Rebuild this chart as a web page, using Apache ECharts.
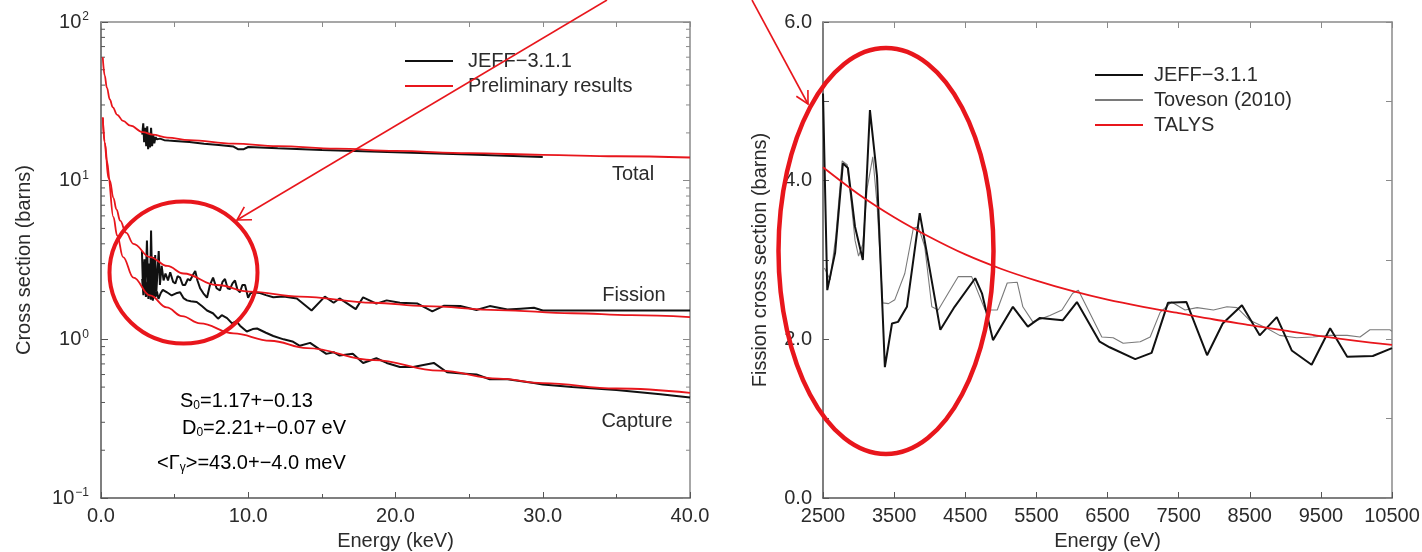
<!DOCTYPE html>
<html>
<head>
<meta charset="utf-8">
<script src="https://cdn.jsdelivr.net/npm/echarts@6/dist/echarts.min.js"></script>
<style>
  html, body { margin: 0; padding: 0; background: #ffffff; }
  #chart { width: 1422px; height: 552px; }
</style>
</head>
<body>
<div id="chart"></div>
<script>
// ---------- Left panel: cross sections vs neutron energy (keV), log scale ----------
const leftXTicks = [0, 10, 20, 30, 40];
const leftYDecades = [0.1, 1, 10, 100];
const logMinorTicks = [0.2, 0.3, 0.4, 0.5, 0.6, 0.7, 0.8, 0.9,
                       2, 3, 4, 5, 6, 7, 8, 9,
                       20, 30, 40, 50, 60, 70, 80, 90];

// JEFF-3.1.1 evaluated data [E (keV), sigma (b)]
const jeffTotal = [
  [2.8, 19.5], [2.87, 23], [2.93, 17.5], [3.0, 21.5], [3.07, 16.5], [3.14, 22],
  [3.2, 15.8], [3.27, 20], [3.33, 16.2], [3.4, 21.5], [3.47, 16.5], [3.55, 19.5],
  [3.62, 17.2], [3.7, 18.8], [3.8, 18.2], [4.0, 18.4], [4.3, 18.0], [4.6, 17.9],
  [5.0, 17.8], [6.0, 17.5], [7.0, 17.1], [8.0, 16.8], [9.0, 16.4], [9.3, 15.8],
  [9.7, 15.8], [10.0, 16.3], [12, 16.0], [15, 15.6], [20, 15.1], [25, 14.6], [30, 14.1]
];
const jeffFission = [
  [2.78, 3.6], [2.85, 2.1], [2.95, 3.2], [3.02, 2.0], [3.12, 4.2], [3.2, 2.2],
  [3.27, 3.0], [3.33, 1.95], [3.4, 4.85], [3.48, 2.1], [3.55, 3.3], [3.62, 1.9],
  [3.68, 3.4], [3.76, 2.0], [3.84, 2.7], [3.92, 3.6], [4.0, 2.2], [4.12, 2.9],
  [4.25, 2.35], [4.38, 2.6], [4.55, 2.35], [4.7, 2.65], [4.9, 2.3], [5.05, 2.25],
  [5.2, 2.5], [5.37, 2.45], [5.55, 2.2], [5.71, 2.2], [5.9, 2.4], [6.05, 2.35],
  [6.25, 2.55], [6.4, 2.7], [6.55, 2.35], [6.73, 2.1], [6.95, 1.95], [7.2, 1.83],
  [7.4, 2.2], [7.61, 2.45], [7.85, 2.1], [8.08, 2.03], [8.25, 2.3], [8.42, 2.4],
  [8.6, 2.1], [8.76, 2.07], [8.93, 2.25], [9.1, 2.35], [9.27, 2.05], [9.44, 1.98],
  [9.6, 2.2], [9.78, 2.2], [9.99, 1.83], [10.15, 1.95], [10.33, 1.98], [10.8, 1.96],
  [11.2, 1.9], [11.7, 1.84], [12.4, 1.86], [13.3, 1.81], [14.3, 1.52], [15.2, 1.86],
  [15.8, 1.7], [16.2, 1.81], [17.3, 1.55], [17.8, 1.84], [18.7, 1.68], [19.4, 1.76],
  [20.3, 1.7], [21.5, 1.68], [22.5, 1.5], [23.3, 1.63], [24.4, 1.62], [25.5, 1.53],
  [26.4, 1.62], [27.6, 1.54], [28.5, 1.56], [29.4, 1.58], [30.0, 1.52], [40.0, 1.52]
];
const jeffCapture = [
  [2.8, 2.4], [2.88, 1.9], [2.97, 2.6], [3.05, 1.85], [3.15, 2.3], [3.22, 1.8],
  [3.3, 2.5], [3.38, 1.78], [3.45, 2.2], [3.52, 1.75], [3.6, 2.1], [3.7, 1.85],
  [3.8, 2.0], [3.9, 1.8], [4.05, 1.95], [4.2, 2.05], [4.48, 1.98], [4.8, 1.89],
  [5.1, 1.95], [5.37, 1.98], [5.6, 1.82], [5.84, 1.76], [6.1, 1.74], [6.5, 1.72],
  [6.85, 1.62], [7.2, 1.52], [7.6, 1.46], [7.95, 1.35], [8.2, 1.42], [8.56, 1.36],
  [8.9, 1.26], [9.2, 1.3], [9.44, 1.22], [9.9, 1.12], [10.3, 1.16], [10.6, 1.17],
  [11.2, 1.1], [11.7, 1.05], [12.4, 1.0], [13.0, 0.97], [13.5, 0.91], [14.2, 0.95],
  [14.8, 0.87], [15.3, 0.81], [15.8, 0.83], [16.2, 0.79], [17.1, 0.81], [17.8, 0.71],
  [18.7, 0.76], [19.4, 0.71], [20.3, 0.67], [21.2, 0.67], [22.6, 0.71], [23.5, 0.62],
  [24.5, 0.61], [25.5, 0.6], [26.4, 0.56], [27.6, 0.56], [29.4, 0.53], [30.0, 0.52],
  [32, 0.5], [35, 0.48], [38, 0.45], [40, 0.43]
];
// Preliminary model results [E (keV), sigma (b)]
const prelimTotal = [
  [0.12, 60], [0.25, 46], [0.4, 38.5], [0.6, 32.5], [0.8, 29], [1.1, 26], [1.5, 23.8],
  [2, 22.2], [2.85, 20.2], [3.5, 19.5], [4.5, 18.7], [6, 18], [9, 17.1], [12, 16.5],
  [16, 15.9], [20, 15.4], [25, 14.9], [30, 14.55], [35, 14.25], [40, 14.0]
];
const prelimFission = [
  [0.12, 25], [0.25, 17.5], [0.39, 13.4], [0.6, 10], [0.84, 7.8], [1.05, 6.6],
  [1.3, 5.6], [1.7, 4.7], [2.2, 4.0], [3.33, 3.3], [4.5, 2.9], [5.6, 2.6],
  [7.86, 2.2], [10.1, 2.0], [13.5, 1.86], [18.5, 1.7], [22, 1.62], [27, 1.53],
  [32, 1.46], [36, 1.42], [40, 1.38]
];
const prelimCapture = [
  [0.12, 25], [0.27, 17.1], [0.5, 10.4], [0.84, 5.9], [1.1, 4.5], [1.5, 3.3],
  [2.2, 2.45], [3.33, 1.89], [4.46, 1.59], [5.5, 1.4], [6.73, 1.26], [9, 1.09],
  [11.5, 0.98], [14, 0.88], [18.5, 0.74], [23, 0.635], [27, 0.565], [30, 0.53],
  [35, 0.49], [40, 0.46]
];

// ---------- Right panel: fission cross section vs energy (eV) ----------
const rightXTicks = [2500, 3500, 4500, 5500, 6500, 7500, 8500, 9500, 10500];
const rightYTicks = [0, 2, 4, 6];
const jeffFissionEv = [
  [2500, 5.1], [2560, 2.62], [2670, 3.09], [2780, 4.22], [2850, 4.16], [2950, 3.42],
  [3060, 3.0], [3160, 4.89], [3260, 4.05], [3370, 1.65], [3470, 2.2], [3555, 2.22],
  [3680, 2.41], [3860, 3.59], [3960, 3.09], [4150, 2.12], [4350, 2.41], [4640, 2.77],
  [4735, 2.58], [4890, 1.99], [5170, 2.41], [5380, 2.16], [5550, 2.27], [5870, 2.24],
  [6070, 2.47], [6390, 1.97], [6530, 1.9], [6890, 1.75], [7120, 1.83], [7350, 2.46],
  [7610, 2.47], [7900, 1.8], [8120, 2.2], [8390, 2.43], [8640, 2.05], [8880, 2.28],
  [9090, 1.86], [9370, 1.68], [9630, 2.14], [9870, 1.78], [10230, 1.79], [10500, 1.89]
];
const tovesonFission = [
  [2520, 2.9], [2600, 2.75], [2680, 3.3], [2770, 4.25], [2840, 4.2], [2900, 3.7],
  [2950, 3.25], [3000, 3.05], [3060, 3.2], [3120, 3.9], [3200, 4.3], [3260, 3.7],
  [3340, 2.46], [3420, 2.45], [3510, 2.5], [3650, 2.83], [3770, 3.4], [3840, 3.42],
  [3930, 3.17], [4030, 2.41], [4120, 2.37], [4260, 2.58], [4400, 2.79], [4590, 2.79],
  [4780, 2.37], [4950, 2.37], [5090, 2.71], [5230, 2.72], [5310, 2.41], [5450, 2.22],
  [5690, 2.3], [5860, 2.37], [6010, 2.58], [6090, 2.62], [6230, 2.37], [6420, 2.03],
  [6580, 2.02], [6720, 1.95], [6960, 1.97], [7100, 2.03], [7240, 2.34], [7400, 2.47],
  [7590, 2.37], [7760, 2.4], [7990, 2.37], [8180, 2.41], [8320, 2.4], [8500, 2.24],
  [8740, 2.14], [8920, 2.05], [9160, 2.02], [9390, 2.03], [9630, 2.05], [9870, 2.05],
  [10050, 2.03], [10190, 2.12], [10470, 2.12], [10500, 2.1]
];
const talysFission = [
  [2500, 4.17], [3000, 3.83], [3500, 3.54], [4000, 3.29], [4500, 3.07], [5000, 2.89],
  [5500, 2.74], [6000, 2.61], [6500, 2.5], [7000, 2.41], [7500, 2.33], [8000, 2.25],
  [8500, 2.18], [9000, 2.11], [9500, 2.04], [10000, 1.98], [10500, 1.93]
];

const FONT = '"Liberation Sans", Arial, Helvetica, sans-serif';
const TXT = '#2b2b2b';
const RED = '#e8161c';
const AXIS_DARK = '#555555';
const AXIS_LIGHT = '#8a8a8a';
const JEFF = 'JEFF\u22123.1.1';

const chart = echarts.init(document.getElementById('chart'), null, { renderer: 'canvas' });

const labelBase = { color: TXT, fontSize: 20, fontFamily: FONT };

function frameAxis(extra) {
  return Object.assign({
    axisLine: { show: true, onZero: false, lineStyle: { color: AXIS_LIGHT, width: 1.5 } },
    axisTick: { show: true, inside: true, length: 6, lineStyle: { color: AXIS_LIGHT, width: 1 } },
    axisLabel: { show: false },
    splitLine: { show: false }
  }, extra);
}

// Minor log ticks (2..9 per decade) on both vertical edges of the left frame
function logMinorRender(params, api) {
  const cs = params.coordSys;
  const y = api.coord([0, api.value(1)])[1];
  return {
    type: 'group',
    children: [
      { type: 'line', shape: { x1: cs.x, y1: y, x2: cs.x + 4, y2: y },
        style: { stroke: AXIS_DARK, lineWidth: 1 } },
      { type: 'line', shape: { x1: cs.x + cs.width, y1: y, x2: cs.x + cs.width - 4, y2: y },
        style: { stroke: AXIS_LIGHT, lineWidth: 1 } }
    ]
  };
}

function arrow(x0, y0, x1, y1, len, halfAngleDeg) {
  const ang = Math.atan2(y0 - y1, x0 - x1);
  const h = halfAngleDeg * Math.PI / 180;
  return [
    { type: 'line', z: 100, shape: { x1: x0, y1: y0, x2: x1, y2: y1 },
      style: { stroke: RED, lineWidth: 1.6 } },
    { type: 'polyline', z: 100,
      shape: { points: [
        [x1 + len * Math.cos(ang + h), y1 + len * Math.sin(ang + h)],
        [x1, y1],
        [x1 + len * Math.cos(ang - h), y1 + len * Math.sin(ang - h)]
      ] },
      style: { stroke: RED, lineWidth: 1.6, fill: null } }
  ];
}

const richSub = {
  n: { fontSize: 20, fontFamily: FONT, color: TXT, lineHeight: 22, verticalAlign: 'middle' },
  sub: { fontSize: 12, fontFamily: FONT, color: TXT, lineHeight: 12, verticalAlign: 'bottom' }
};

const legendCommon = {
  orient: 'vertical', padding: 0,
  itemWidth: 48, itemHeight: 14, itemGap: 5, selectedMode: false,
  itemStyle: { opacity: 0 }
};

const option = {
  animation: false,
  backgroundColor: '#ffffff',
  textStyle: { fontFamily: FONT },
  grid: [
    { left: 101, top: 22, width: 589, height: 476, containLabel: false, outerBoundsMode: 'none' },
    { left: 823, top: 22, width: 569, height: 476, containLabel: false, outerBoundsMode: 'none' }
  ],
  legend: [
    Object.assign({}, legendCommon, {
      left: 404, top: 51,
      data: [JEFF, 'Preliminary results'],
      textStyle: { color: TXT, fontSize: 20, fontFamily: FONT, lineHeight: 20, padding: [0, 0, 0, 10] }
    }),
    Object.assign({}, legendCommon, {
      left: 1094, top: 65,
      data: [JEFF, 'Toveson (2010)', 'TALYS'],
      textStyle: { color: TXT, fontSize: 20, fontFamily: FONT, lineHeight: 20, padding: [0, 0, 0, 6] }
    })
  ],
  xAxis: [
    {
      gridIndex: 0, type: 'value', position: 'bottom',
      min: leftXTicks[0], max: leftXTicks[leftXTicks.length - 1], interval: 10,
      name: 'Energy (keV)', nameLocation: 'middle', nameGap: 33,
      nameTextStyle: labelBase,
      axisLine: { show: true, onZero: false, lineStyle: { color: AXIS_DARK, width: 1.5 } },
      axisTick: { show: true, inside: true, length: 6, lineStyle: { color: AXIS_DARK, width: 1 } },
      minorTick: { show: true, splitNumber: 2, length: 4, lineStyle: { color: AXIS_DARK, width: 1 } },
      axisLabel: Object.assign({ margin: 8, formatter: v => v.toFixed(1) }, labelBase),
      splitLine: { show: false }, minorSplitLine: { show: false }
    },
    frameAxis({
      gridIndex: 0, type: 'value', position: 'top',
      min: leftXTicks[0], max: leftXTicks[leftXTicks.length - 1], interval: 5,
      axisTick: { show: true, inside: true, length: 5, lineStyle: { color: AXIS_LIGHT, width: 1 } }
    }),
    {
      gridIndex: 1, type: 'value', position: 'bottom',
      min: rightXTicks[0], max: rightXTicks[rightXTicks.length - 1], interval: 1000,
      name: 'Energy (eV)', nameLocation: 'middle', nameGap: 33,
      nameTextStyle: labelBase,
      axisLine: { show: true, onZero: false, lineStyle: { color: AXIS_DARK, width: 1.5 } },
      axisTick: { show: true, inside: true, length: 6, lineStyle: { color: AXIS_DARK, width: 1 } },
      axisLabel: Object.assign({ margin: 8, formatter: v => String(v) }, labelBase),
      splitLine: { show: false }
    },
    frameAxis({
      gridIndex: 1, type: 'value', position: 'top',
      min: rightXTicks[0], max: rightXTicks[rightXTicks.length - 1], interval: 1000
    })
  ],
  yAxis: [
    {
      gridIndex: 0, type: 'log', logBase: 10, position: 'left',
      min: leftYDecades[0], max: leftYDecades[leftYDecades.length - 1],
      name: 'Cross section (barns)', nameLocation: 'middle', nameGap: 67,
      nameTextStyle: labelBase,
      axisLine: { show: true, onZero: false, lineStyle: { color: AXIS_DARK, width: 1.5 } },
      axisTick: { show: true, inside: true, length: 7, lineStyle: { color: AXIS_DARK, width: 1 } },
      axisLabel: {
        margin: 12,
        formatter: v => {
          const k = Math.round(Math.log10(v));
          return '{b|10}{p|' + (k < 0 ? '\u2212' + (-k) : k) + '}';
        },
        rich: {
          b: { fontSize: 20, fontFamily: FONT, color: TXT, lineHeight: 22, verticalAlign: 'middle' },
          p: { fontSize: 12, fontFamily: FONT, color: TXT, lineHeight: 12, verticalAlign: 'top', padding: [0, 0, 0, 1] }
        }
      },
      splitLine: { show: false }
    },
    frameAxis({
      gridIndex: 0, type: 'log', logBase: 10, position: 'right',
      min: leftYDecades[0], max: leftYDecades[leftYDecades.length - 1],
      axisTick: { show: true, inside: true, length: 7, lineStyle: { color: AXIS_LIGHT, width: 1 } }
    }),
    {
      gridIndex: 1, type: 'value', position: 'left',
      min: rightYTicks[0], max: rightYTicks[rightYTicks.length - 1], interval: 1,
      name: 'Fission cross section (barns)', nameLocation: 'middle', nameGap: 53,
      nameTextStyle: labelBase,
      axisLine: { show: true, onZero: false, lineStyle: { color: AXIS_DARK, width: 1.5 } },
      axisTick: { show: true, inside: true, length: 6, lineStyle: { color: AXIS_DARK, width: 1 } },
      axisLabel: Object.assign({
        margin: 11,
        formatter: v => (rightYTicks.indexOf(v) >= 0 ? v.toFixed(1) : '')
      }, labelBase),
      splitLine: { show: false }
    },
    frameAxis({
      gridIndex: 1, type: 'value', position: 'right',
      min: rightYTicks[0], max: rightYTicks[rightYTicks.length - 1], interval: 1
    })
  ],
  series: [
    {
      type: 'custom', xAxisIndex: 0, yAxisIndex: 0, silent: true, clip: false,
      data: logMinorTicks.map(v => [0, v]), renderItem: logMinorRender, z: 1
    },
    // left panel: JEFF-3.1.1
    { name: JEFF, type: 'line', xAxisIndex: 0, yAxisIndex: 0, data: jeffTotal,
      symbol: 'none', lineStyle: { color: '#111', width: 2 }, itemStyle: { color: '#111' }, z: 3 },
    { name: JEFF, type: 'line', xAxisIndex: 0, yAxisIndex: 0, data: jeffFission,
      symbol: 'none', lineStyle: { color: '#111', width: 2 }, itemStyle: { color: '#111' }, z: 3 },
    { name: JEFF, type: 'line', xAxisIndex: 0, yAxisIndex: 0, data: jeffCapture,
      symbol: 'none', lineStyle: { color: '#111', width: 2 }, itemStyle: { color: '#111' }, z: 3 },
    // left panel: preliminary results
    { name: 'Preliminary results', type: 'line', xAxisIndex: 0, yAxisIndex: 0, data: prelimTotal,
      symbol: 'none', smooth: 0.4, smoothMonotone: 'x',
      lineStyle: { color: RED, width: 1.8 }, itemStyle: { color: RED }, z: 4 },
    { name: 'Preliminary results', type: 'line', xAxisIndex: 0, yAxisIndex: 0, data: prelimFission,
      symbol: 'none', smooth: 0.4, smoothMonotone: 'x',
      lineStyle: { color: RED, width: 1.8 }, itemStyle: { color: RED }, z: 4 },
    { name: 'Preliminary results', type: 'line', xAxisIndex: 0, yAxisIndex: 0, data: prelimCapture,
      symbol: 'none', smooth: 0.4, smoothMonotone: 'x',
      lineStyle: { color: RED, width: 1.8 }, itemStyle: { color: RED }, z: 4 },
    // right panel
    { name: 'Toveson (2010)', type: 'line', xAxisIndex: 2, yAxisIndex: 2, data: tovesonFission,
      symbol: 'none', lineStyle: { color: '#7a7a7a', width: 1.1 }, itemStyle: { color: '#7a7a7a' }, z: 3 },
    { name: JEFF, type: 'line', xAxisIndex: 2, yAxisIndex: 2, data: jeffFissionEv,
      symbol: 'none', lineStyle: { color: '#111', width: 2 }, itemStyle: { color: '#111' }, z: 4 },
    { name: 'TALYS', type: 'line', xAxisIndex: 2, yAxisIndex: 2, data: talysFission,
      symbol: 'none', smooth: 0.3,
      lineStyle: { color: RED, width: 1.8 }, itemStyle: { color: RED }, z: 5 }
  ],
  graphic: [
    // curve labels
    { type: 'text', z: 50, style: { text: 'Total', x: 633, y: 174, align: 'center', verticalAlign: 'middle',
      font: '20px ' + FONT, fill: TXT } },
    { type: 'text', z: 50, style: { text: 'Fission', x: 634, y: 295, align: 'center', verticalAlign: 'middle',
      font: '20px ' + FONT, fill: TXT } },
    { type: 'text', z: 50, style: { text: 'Capture', x: 637, y: 421, align: 'center', verticalAlign: 'middle',
      font: '20px ' + FONT, fill: TXT } },
    // resonance parameters
    { type: 'text', z: 50, style: { text: '{n|S}{sub|0}{n|=1.17+\u22120.13}', rich: richSub,
      x: 180, y: 401, verticalAlign: 'middle' } },
    { type: 'text', z: 50, style: { text: '{n|D}{sub|0}{n|=2.21+\u22120.07 eV}', rich: richSub,
      x: 182, y: 428, verticalAlign: 'middle' } },
    { type: 'text', z: 50, style: { text: '{n|<\u0393}{sub|\u03b3}{n|>=43.0+\u22124.0 meV}', rich: richSub,
      x: 157, y: 463, verticalAlign: 'middle' } },
    // highlight rings
    { type: 'ellipse', z: 90, shape: { cx: 183.5, cy: 272.5, rx: 74, ry: 71 },
      style: { stroke: RED, lineWidth: 4, fill: null } },
    { type: 'ellipse', z: 90, shape: { cx: 886, cy: 251, rx: 107.5, ry: 203 },
      style: { stroke: RED, lineWidth: 4.5, fill: null } }
  ].concat(arrow(607, 0, 237, 220, 15, 30), arrow(752, 0, 808, 104, 14, 28))
};

chart.setOption(option);
</script>
</body>
</html>
